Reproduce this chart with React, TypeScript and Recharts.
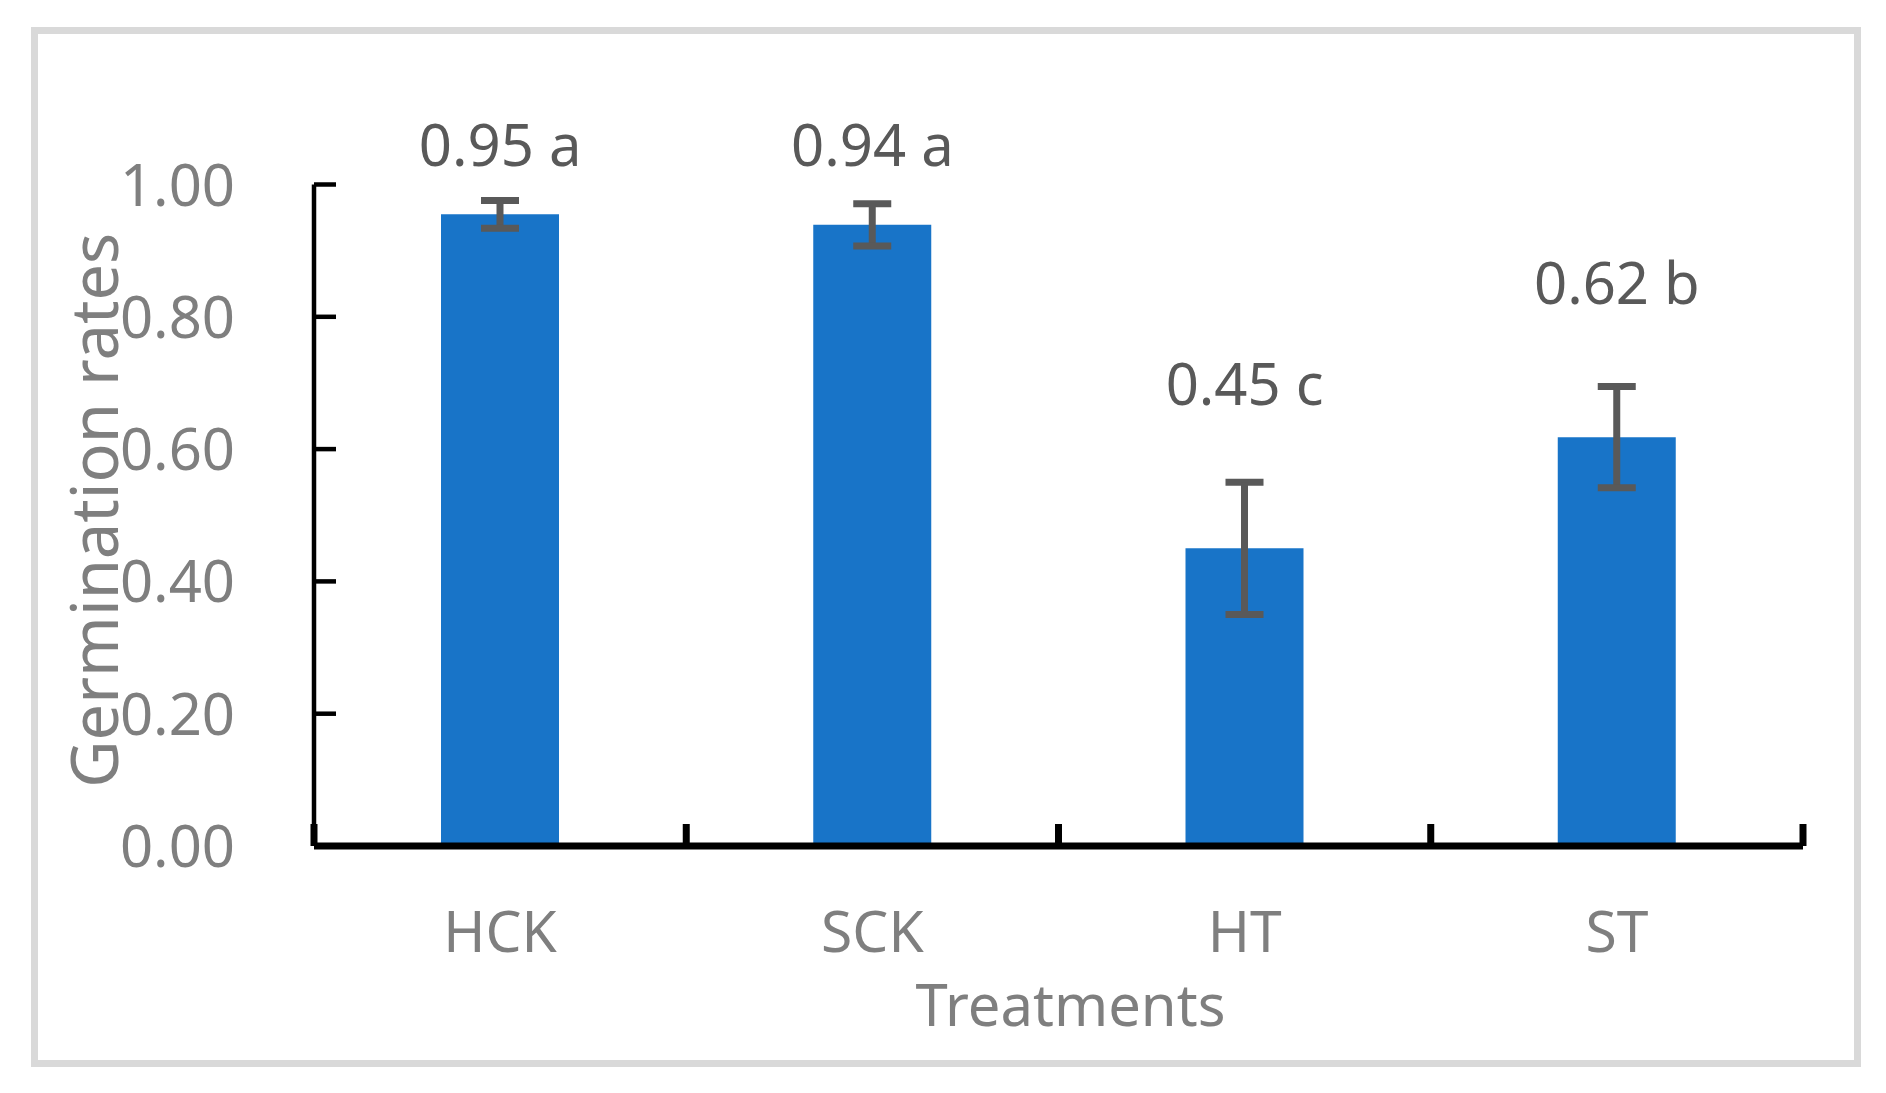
import React from 'react';
import { BarChart, Bar, XAxis, YAxis, ErrorBar, ReferenceDot } from 'recharts';

const treatments = ['HCK', 'SCK', 'HT', 'ST'];
const rates = [0.955, 0.939, 0.45, 0.618];
const errors = [0.021, 0.032, 0.1, 0.0765];
const valueLabels = ['0.95 a', '0.94 a', '0.45 c', '0.62 b'];
// where each label's baseline sits, in data units
const labelAt = [1.028, 1.028, 0.666, 0.819];
const yTicks = [0, 0.2, 0.4, 0.6, 0.8, 1.0];

const data = treatments.map((name, i) => ({ name, rate: rates[i], err: errors[i] }));

const FONT = '"Noto Sans", "Open Sans", sans-serif';
const BAR = '#1874c8';
const DARK = '#595959';
const GREY = '#7f7f7f';
const BAND = (1803 - 314) / 4;

const YTick = (props: any) => {
  const { x, y, payload } = props;
  return (
    <g>
      <line x1={x} y1={y} x2={x + 22} y2={y} stroke="#000" strokeWidth={4.5} />
      <text x={x - 79} y={y + 21} textAnchor="end" fontSize={58} fill={GREY} fontFamily={FONT}>
        {Number(payload.value).toFixed(2)}
      </text>
    </g>
  );
};

const XTick = (props: any) => {
  const { x, y, payload, index } = props;
  const half = payload.offset || BAND / 2;
  return (
    <g>
      <line x1={x - half} y1={y} x2={x - half} y2={y - 22} stroke="#000" strokeWidth={7} />
      {index === treatments.length - 1 && (
        <line x1={x + half} y1={y} x2={x + half} y2={y - 22} stroke="#000" strokeWidth={7} />
      )}
      <text x={x} y={y + 106} textAnchor="middle" fontSize={57} fill={GREY} fontFamily={FONT}>
        {payload.value}
      </text>
    </g>
  );
};

export default function App() {
  return (
    <div style={{ position: 'absolute', left: 0, top: 0, width: 1886, height: 1093, background: '#fff', fontFamily: FONT }}>
      <div
        style={{
          position: 'absolute',
          left: 31,
          top: 27,
          width: 1830,
          height: 1040,
          border: '7px solid #d9d9d9',
          boxSizing: 'border-box',
        }}
      />
      <div style={{ position: 'absolute', left: 0, top: 0 }}>
        <BarChart
          width={1886}
          height={1093}
          data={data}
          margin={{ top: 184.5, right: 83, bottom: 147, left: 214 }}
        >
          <XAxis
            dataKey="name"
            height={100}
            axisLine={{ stroke: '#000', strokeWidth: 7 }}
            tickLine={false}
            tickSize={0}
            tickMargin={0}
            tick={<XTick />}
            interval={0}
            label={{
              content: (p: any) => {
                const vb = p.viewBox;
                return (
                  <text x={vb.x + vb.width / 2 + 12} y={vb.y + 180} textAnchor="middle" fontSize={58} fill={GREY} fontFamily={FONT}>
                    Treatments
                  </text>
                );
              },
            }}
          />
          <YAxis
            width={100}
            domain={[0, 1]}
            ticks={yTicks}
            axisLine={{ stroke: '#000', strokeWidth: 4.5 }}
            tickLine={false}
            tickSize={0}
            tickMargin={0}
            tick={<YTick />}
            interval={0}
            label={{
              content: (p: any) => {
                const vb = p.viewBox;
                const cx = vb.x - 96;
                const cy = vb.y + vb.height / 2 - 5;
                return (
                  <text
                    x={cx}
                    y={cy}
                    transform={`rotate(-90 ${cx} ${cy})`}
                    textAnchor="middle"
                    fontSize={65}
                    fill={GREY}
                    fontFamily={FONT}
                  >
                    Germination rates
                  </text>
                );
              },
            }}
          />
          <Bar dataKey="rate" fill={BAR} barSize={118} isAnimationActive={false}>
            <ErrorBar dataKey="err" width={19} stroke={DARK} strokeWidth={7} direction="y" />
          </Bar>
          {treatments.map((name, i) => (
            <ReferenceDot
              key={name}
              x={name}
              y={labelAt[i]}
              r={0}
              ifOverflow="visible"
              shape={(p: any) => (
                <text x={p.cx} y={p.cy} textAnchor="middle" fontSize={58} fill={DARK} fontFamily={FONT}>
                  {valueLabels[i]}
                </text>
              )}
            />
          ))}
        </BarChart>
      </div>
    </div>
  );
}
